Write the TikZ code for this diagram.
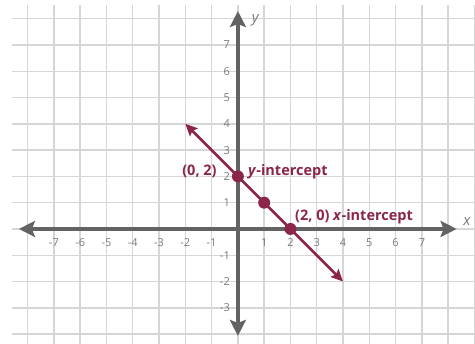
\documentclass[tikz,border=0pt]{standalone}
\usepackage{fontspec}
\setmainfont{Open Sans}
\usepackage{tikz}
\usetikzlibrary{arrows.meta,positioning,calc}
\definecolor{gridgray}{HTML}{D6D6D6}
\definecolor{axisgray}{HTML}{636363}
\definecolor{ticktext}{HTML}{7A7A7A}
\definecolor{linered}{HTML}{8C2648}

\begin{document}
\begin{tikzpicture}[x=26.3pt, y=26.3pt, font=\fontsize{11}{13}\selectfont,
  axis/.style={draw=axisgray, line width=4pt, {Stealth[length=16pt,width=16pt,inset=3pt]}-{Stealth[length=16pt,width=16pt,inset=3pt]}},
  gridline/.style={draw=gridgray, line width=1.4pt},
  tick/.style={text=ticktext, inner sep=0pt},
  axlabel/.style={text=ticktext, inner sep=0pt, font=\fontsize{15}{17}\selectfont\itshape},
  dot/.style={circle, fill=linered, inner sep=0pt, minimum size=12pt},
  lbl/.style={text=linered, inner sep=0pt, font=\fontsize{14.5}{17}\selectfont\bfseries}]
\useasboundingbox (-9.05,-4.37) rectangle (9.02,8.71);
% grid
\foreach \i in {-8,...,9} \draw[gridline] (\i,-4.37) -- (\i,8.52);
\foreach \j in {-4,...,8} \draw[gridline] (-8.6,\j) -- (9.02,\j);
% axes
\coordinate (xl) at (-8.33,0); \coordinate (xr) at (8.32,0);
\coordinate (yb) at (0,-4.07); \coordinate (yt) at (0,8.29);
\draw[axis] (xl) -- (xr);
\draw[axis] (yb) -- (yt);
\node[axlabel] (xlab) at (8.71,0.30) {x};
\node[axlabel] (ylab) at (0.66,7.95) {y};
% ticks
\foreach \i in {-7,...,-1,1,2,...,7} \node[tick] (tx\i) at (\i,-0.53) {\i};
\foreach \j in {-3,...,-1,1,2,...,7} \node[tick, anchor=east] (ty\j) at (-0.3,\j) {\j};
% line y = 2 - x
\coordinate (la) at (-2,4); \coordinate (lb) at (4,-2);
\draw[linered, line width=2.6pt, {Stealth[length=12pt,width=11pt,inset=2pt]}-{Stealth[length=12pt,width=11pt,inset=2pt]}] (la) -- (lb);
\node[dot] (p02) at (0,2) {};
\node[dot] (p11) at (1,1) {};
\node[dot] (p20) at (2,0) {};
% labels
\node[lbl, anchor=base east] (l02) at (-0.8,2.04) {(0, 2)};
\node[lbl, anchor=base west] (yint) at (0.38,2.04) {\textit{y}-intercept};
\node[lbl, anchor=base west] (xint) at (2.17,0.34) {(2, 0) \textit{x}-intercept};
\end{tikzpicture}
\end{document}
